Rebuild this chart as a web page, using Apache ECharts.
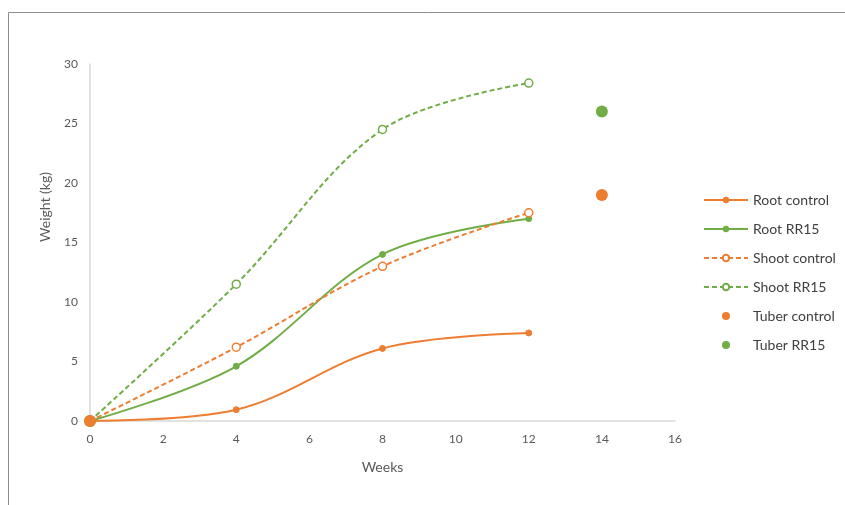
<!DOCTYPE html>
<html><head><meta charset="utf-8">
<script src="https://cdn.jsdelivr.net/npm/echarts@6/dist/echarts.min.js"></script>
<style>html,body{margin:0;padding:0;background:#fff}#c{width:845px;height:505px}</style>
</head><body><div id="c"></div>
<script>
const weeks = [0, 4, 8, 12];
const rootControl = [0, 0.95, 6.1, 7.4];
const rootRR15 = [0, 4.6, 14.0, 17.0];
const shootControl = [0, 6.2, 13.0, 17.5];
const shootRR15 = [0, 11.5, 24.5, 28.4];
const tuberWeeks = [0, 14];
const tuberControl = [0, 19.0];
const tuberRR15 = [0, 26.0];
const xTicks = [0, 2, 4, 6, 8, 10, 12, 14, 16];
const yTicks = [0, 5, 10, 15, 20, 25, 30];

const ORANGE = '#ED7D31', GREEN = '#70AD47';
const pair = (xs, ys) => xs.map((x, i) => [x, ys[i]]);
const font = 'Lato, "Open Sans", sans-serif';

const chart = echarts.init(document.getElementById('c'), null, {renderer: 'canvas'});
function lineSeries(name, data, color, dashed, open) {
  return {
    name, type: 'line', smooth: 0.35, data,
    symbol: 'circle', symbolSize: open ? 8 : 6,
    lineStyle: {color, width: 2, type: dashed ? [5, 3] : 'solid'},
    itemStyle: open ? {color: '#fff', borderColor: color, borderWidth: 1.5} : {color, borderColor: color},
    emphasis: {disabled: true}, z: 3
  };
}
chart.setOption({
  animation: false,
  textStyle: {fontFamily: font},
  grid: {left: 90, right: 170, top: 64, bottom: 84, containLabel: false},
  xAxis: {
    type: 'value', min: xTicks[0], max: xTicks[xTicks.length - 1], interval: 2,
    name: 'Weeks', nameLocation: 'middle', nameGap: 39,
    nameTextStyle: {color: '#595959', fontSize: 14, fontFamily: font},
    axisLine: {lineStyle: {color: '#d9d9d9', width: 1.5}},
    axisTick: {show: false}, splitLine: {show: false},
    axisLabel: {color: '#595959', fontSize: 12, margin: 12, fontFamily: font}
  },
  yAxis: {
    type: 'value', min: yTicks[0], max: yTicks[yTicks.length - 1], interval: 5,
    axisLine: {show: true, lineStyle: {color: '#d9d9d9', width: 1.5}},
    axisTick: {show: false}, splitLine: {show: false},
    axisLabel: {color: '#595959', fontSize: 12, margin: 12, fontFamily: font}
  },
  legend: {
    orient: 'vertical', left: 698, top: 188, itemGap: 15, itemWidth: 44, itemHeight: 8,
    textStyle: {color: '#404040', fontSize: 14, fontFamily: font},
    data: ['Root control', 'Root RR15', 'Shoot control', 'Shoot RR15', 'Tuber control', 'Tuber RR15']
  },
  graphic: [
    {type: 'rect', shape: {x: 8.5, y: 12.5, width: 900, height: 600}, style: {fill: 'none', stroke: '#8c8c8c', lineWidth: 1}, silent: true, z: -10},
    {type: 'text', x: 45, y: 207, rotation: Math.PI / 2, style: {text: 'Weight (kg)', fill: '#595959', font: '14px ' + font, align: 'center', verticalAlign: 'middle'}}
  ],
  series: [
    lineSeries('Root control', pair(weeks, rootControl), ORANGE, false, false),
    lineSeries('Root RR15', pair(weeks, rootRR15), GREEN, false, false),
    lineSeries('Shoot control', pair(weeks, shootControl), ORANGE, true, true),
    lineSeries('Shoot RR15', pair(weeks, shootRR15), GREEN, true, true),
    {name: 'Tuber RR15', type: 'scatter', data: pair(tuberWeeks, tuberRR15), symbolSize: 12, itemStyle: {color: GREEN, opacity: 1}, emphasis: {disabled: true}, z: 4},
    {name: 'Tuber control', type: 'scatter', data: pair(tuberWeeks, tuberControl), symbolSize: 12, itemStyle: {color: ORANGE, opacity: 1}, emphasis: {disabled: true}, z: 5}
  ]
});
</script></body></html>
